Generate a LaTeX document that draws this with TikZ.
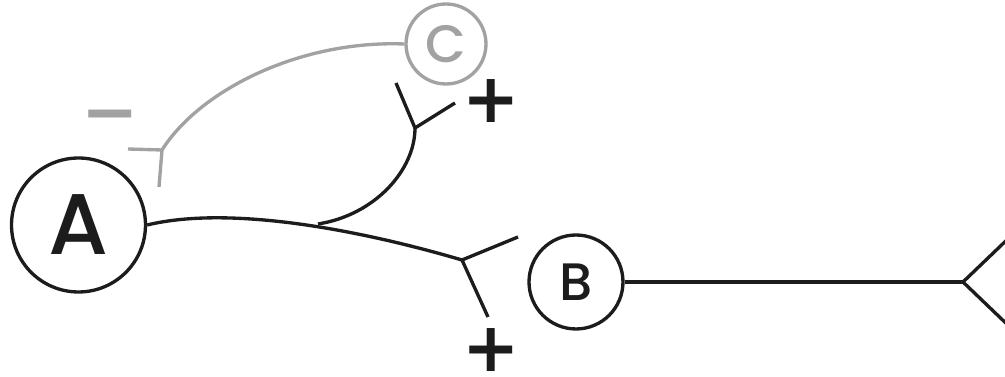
\documentclass[tikz,border=0pt]{standalone}
\usepackage{fontspec}
\newfontfamily\letterfont{Poppins Medium}
\newfontfamily\signfont{DejaVu Sans Bold}
\usepackage{tkz-euclide}
\usetikzlibrary{calc}
\definecolor{ink}{RGB}{28,28,28}
\definecolor{ash}{RGB}{162,162,162}

\begin{document}
\begin{tikzpicture}[x=0.02cm,y=-0.02cm,line width=1.9pt,
  cell/.style={circle,draw,inner sep=0pt,font=\letterfont},
  sign/.style={inner sep=0pt,font=\signfont\fontsize{39}{39}\selectfont}]
\tkzSetUpLine[line width=1.9pt,color=ink]
\useasboundingbox (0,0) rectangle (1005,377);
\clip (0,0) rectangle (1005,377);

\tkzDefPoints{318/224/J,415/128/F1,462/260/F2,963/282/F3,162/150/G}
\tkzDefPoints{396/83/U1,455/103/U2,518/237/L1,488/317/L2,1012/235/R1,1012/329/R2}
\tkzDefPoints{128/149/G1,159/187/G2}

% units
\node[cell,ink,minimum size=2.68cm,font=\letterfont\fontsize{49}{49}\selectfont] (A) at (78.5,225) {A};
\node[cell,ink,minimum size=1.88cm,font=\letterfont\fontsize{30}{30}\selectfont] (B) at (576,282) {B};
\node[cell,ash,minimum size=1.6cm,font=\letterfont\fontsize{30}{30}\selectfont] (C) at (446,44) {C};

% black lines
\draw[ink] (A.east) .. controls (230,205) and (360,230) .. (F2);
\draw[ink] (J) .. controls (375,215) and (415,170) .. (F1);
\draw[ink] (B.east) -- (F3);
\draw[ink,line join=round] (U1) -- (F1) -- (U2);
\draw[ink,line join=round] (L1) -- (F2) -- (L2);
\draw[ink,line join=round] (R1) -- (F3) -- (R2);

% grey line
\draw[ash] (C.west) .. controls (300,40) and (200,90) .. (G);
\draw[ash,line join=round] (G1) -- (G) -- (G2);

% signs
\node[sign,ink] (plus1) at (491.5,101.5) {+};
\node[sign,ink] (plus2) at (491.5,350) {+};
\node[sign,ash] (minus) at (110,122.5) {−};
\end{tikzpicture}
\end{document}
